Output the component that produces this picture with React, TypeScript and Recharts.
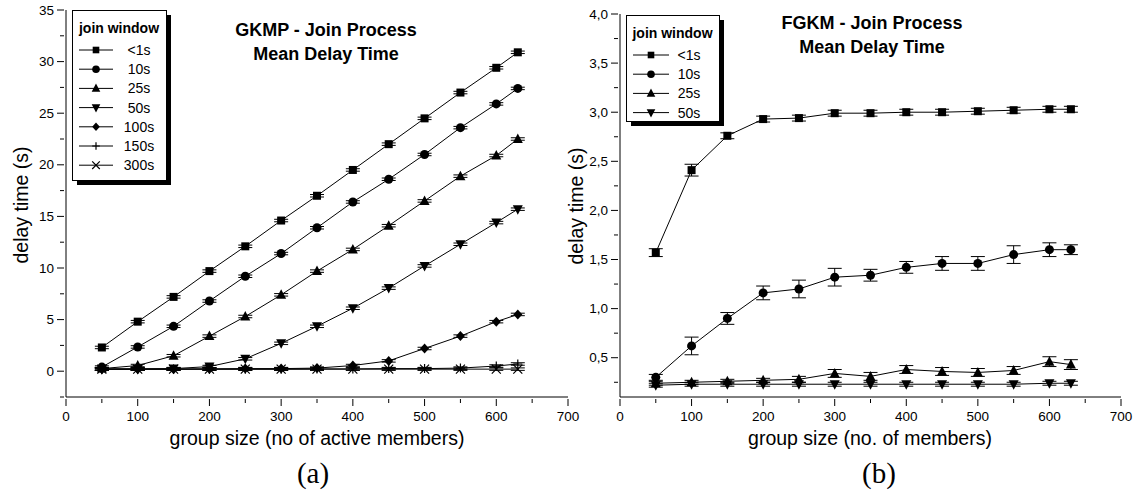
import React from "react";
import { LineChart, Line, XAxis, YAxis, ErrorBar, Legend } from "recharts";

// group sizes (x) shared by both panels
const groupSizes = [50, 100, 150, 200, 250, 300, 350, 400, 450, 500, 550, 600, 630];

// (a) GKMP - mean delay time (s)
const gkmpLt1 = [2.3, 4.8, 7.2, 9.7, 12.1, 14.6, 17.0, 19.5, 22.0, 24.5, 27.0, 29.4, 30.9];
const gkmp10 = [0.4, 2.35, 4.35, 6.8, 9.2, 11.4, 13.9, 16.4, 18.6, 21.0, 23.6, 25.9, 27.4];
const gkmp25 = [0.25, 0.55, 1.5, 3.4, 5.3, 7.4, 9.7, 11.8, 14.1, 16.5, 18.9, 20.9, 22.5];
const gkmp50 = [0.2, 0.22, 0.25, 0.45, 1.2, 2.7, 4.35, 6.1, 8.05, 10.2, 12.3, 14.4, 15.7];
const gkmp100 = [0.2, 0.2, 0.2, 0.22, 0.25, 0.25, 0.3, 0.55, 1.0, 2.2, 3.4, 4.8, 5.5];
const gkmp150 = [0.2, 0.2, 0.2, 0.2, 0.2, 0.2, 0.22, 0.22, 0.25, 0.25, 0.3, 0.5, 0.7];
const gkmp300 = [0.2, 0.2, 0.2, 0.2, 0.2, 0.2, 0.2, 0.2, 0.2, 0.2, 0.2, 0.2, 0.2];
const gkmpErr = [0.12, 0.12, 0.12, 0.12, 0.12, 0.12, 0.12, 0.12, 0.12, 0.12, 0.12, 0.12, 0.12];

// (b) FGKM - mean delay time (s)
const fgkmLt1 = [1.57, 2.41, 2.76, 2.93, 2.94, 2.99, 2.99, 3.0, 3.0, 3.01, 3.02, 3.03, 3.03];
const fgkmLt1Err = [0.04, 0.06, 0.03, 0.03, 0.03, 0.03, 0.03, 0.03, 0.03, 0.03, 0.03, 0.03, 0.03];
const fgkm10 = [0.3, 0.62, 0.9, 1.16, 1.2, 1.32, 1.34, 1.42, 1.46, 1.46, 1.55, 1.6, 1.6];
const fgkm10Err = [0.03, 0.09, 0.06, 0.07, 0.09, 0.09, 0.06, 0.06, 0.07, 0.07, 0.09, 0.07, 0.05];
const fgkm25 = [0.24, 0.25, 0.26, 0.27, 0.28, 0.34, 0.31, 0.38, 0.36, 0.35, 0.37, 0.46, 0.43];
const fgkm25Err = [0.02, 0.02, 0.02, 0.02, 0.03, 0.04, 0.04, 0.04, 0.04, 0.04, 0.04, 0.05, 0.05];
const fgkm50 = [0.22, 0.23, 0.23, 0.23, 0.23, 0.23, 0.23, 0.23, 0.23, 0.23, 0.23, 0.24, 0.24];
const fgkm50Err = [0.02, 0.02, 0.02, 0.02, 0.02, 0.02, 0.02, 0.02, 0.02, 0.02, 0.02, 0.02, 0.02];

// ticks (majors get labels, the rest are minor)
const xTicks = [0, 50, 100, 150, 200, 250, 300, 350, 400, 450, 500, 550, 600, 650, 700];
const yTicksA = [-2.5, 0, 2.5, 5, 7.5, 10, 12.5, 15, 17.5, 20, 22.5, 25, 27.5, 30, 32.5, 35];
const yTicksB = [0.25, 0.5, 0.75, 1, 1.25, 1.5, 1.75, 2, 2.25, 2.5, 2.75, 3, 3.25, 3.5, 3.75, 4];

const SANS = "'Liberation Sans', Arial, sans-serif";
const SERIF = "'Liberation Serif', 'DejaVu Serif', serif";

const gkmpData = groupSizes.map((x, i) => ({
  x,
  lt1: gkmpLt1[i],
  s10: gkmp10[i],
  s25: gkmp25[i],
  s50: gkmp50[i],
  s100: gkmp100[i],
  s150: gkmp150[i],
  s300: gkmp300[i],
  err: gkmpErr[i],
}));

const fgkmData = groupSizes.map((x, i) => ({
  x,
  lt1: fgkmLt1[i],
  lt1Err: fgkmLt1Err[i],
  s10: fgkm10[i],
  s10Err: fgkm10Err[i],
  s25: fgkm25[i],
  s25Err: fgkm25Err[i],
  s50: fgkm50[i],
  s50Err: fgkm50Err[i],
}));

type Shape = "square" | "circle" | "up" | "down" | "diamond" | "plus" | "cross";

const seriesA: { key: string; name: string; shape: Shape }[] = [
  { key: "lt1", name: "<1s", shape: "square" },
  { key: "s10", name: "10s", shape: "circle" },
  { key: "s25", name: "25s", shape: "up" },
  { key: "s50", name: "50s", shape: "down" },
  { key: "s100", name: "100s", shape: "diamond" },
  { key: "s150", name: "150s", shape: "plus" },
  { key: "s300", name: "300s", shape: "cross" },
];

const seriesB: { key: string; name: string; shape: Shape; err: string }[] = [
  { key: "lt1", name: "<1s", shape: "square", err: "lt1Err" },
  { key: "s10", name: "10s", shape: "circle", err: "s10Err" },
  { key: "s25", name: "25s", shape: "up", err: "s25Err" },
  { key: "s50", name: "50s", shape: "down", err: "s50Err" },
];

const Marker = ({ cx, cy, shape, s = 4.5 }: { cx: number; cy: number; shape: Shape; s?: number }) => {
  if (cx == null || cy == null) return null;
  switch (shape) {
    case "square":
      return <rect x={cx - s + 0.5} y={cy - s + 0.5} width={2 * s - 1} height={2 * s - 1} fill="#000" />;
    case "circle":
      return <circle cx={cx} cy={cy} r={s} fill="#000" />;
    case "up":
      return <polygon points={`${cx},${cy - s - 1} ${cx + s + 0.5},${cy + s - 0.5} ${cx - s - 0.5},${cy + s - 0.5}`} fill="#000" />;
    case "down":
      return <polygon points={`${cx - s - 0.5},${cy - s + 0.5} ${cx + s + 0.5},${cy - s + 0.5} ${cx},${cy + s + 1}`} fill="#000" />;
    case "diamond":
      return <polygon points={`${cx},${cy - s - 0.5} ${cx + s},${cy} ${cx},${cy + s + 0.5} ${cx - s},${cy}`} fill="#000" />;
    case "plus":
      return <path d={`M${cx - s},${cy}H${cx + s}M${cx},${cy - s}V${cy + s}`} stroke="#000" strokeWidth={1.2} />;
    case "cross":
      return <path d={`M${cx - s},${cy - s}L${cx + s},${cy + s}M${cx + s},${cy - s}L${cx - s},${cy + s}`} stroke="#000" strokeWidth={1.2} />;
  }
  return null;
};

const isMajor = (v: number, step: number) => Math.abs(v / step - Math.round(v / step)) < 1e-6;

const BottomTick = (props: any) => {
  const { x, y, payload } = props;
  const major = isMajor(payload.value, 100);
  return (
    <g>
      <line x1={x} y1={y} x2={x} y2={y + (major ? 7 : 4)} stroke="#000" />
      {major && (
        <text x={x} y={y + 22} textAnchor="middle" fontSize={13.5} fill="#000" fontFamily={SANS}>
          {payload.value}
        </text>
      )}
    </g>
  );
};

const LeftTick = (props: any) => {
  const { x, y, payload, step, comma } = props;
  const v = payload.value as number;
  const major = isMajor(v, step);
  const label = comma ? v.toFixed(1).replace(".", ",") : String(v);
  return (
    <g>
      <line x1={x} y1={y} x2={x - (major ? 7 : 4)} y2={y} stroke="#000" />
      {major && (
        <text x={x - 10} y={y + 4.5} textAnchor="end" fontSize={13.5} fill="#000" fontFamily={SANS}>
          {label}
        </text>
      )}
    </g>
  );
};

const LegendBox = ({ items, width, height, lineX, markX, textX }: any) => {
  const rowH = 19.2;
  return (
    <svg width={width + 7} height={height + 7} style={{ display: "block", overflow: "visible" }}>
      <rect x={5} y={5} width={width} height={height} fill="#000" />
      <rect x={0.5} y={0.5} width={width} height={height} fill="#fff" stroke="#000" />
      <text x={width / 2} y={23} textAnchor="middle" fontWeight="bold" fontSize={14} fontFamily={SANS}>
        join window
      </text>
      {items.map((it: any, i: number) => {
        const y = 40 + i * rowH;
        return (
          <g key={it.key}>
            <line x1={lineX[0]} x2={lineX[1]} y1={y} y2={y} stroke="#000" />
            <Marker cx={markX} cy={y} shape={it.shape} s={3.8} />
            <text x={textX} y={y + 5} textAnchor="middle" fontSize={14} fontFamily={SANS}>
              {it.name}
            </text>
          </g>
        );
      })}
    </svg>
  );
};

const textStyle: React.CSSProperties = {
  position: "absolute",
  fontFamily: SANS,
  color: "#000",
  whiteSpace: "nowrap",
};

export default function App() {
  return (
    <div style={{ position: "absolute", left: 0, top: 0, width: 1138, height: 494, background: "#fff", overflow: "hidden" }}>
      {/* (a) GKMP */}
      <div style={{ position: "absolute", left: 0, top: 0 }}>
        <LineChart width={584} height={494} data={gkmpData} margin={{ top: 10, right: 16, left: 0, bottom: 67 }}>
          <XAxis
            type="number"
            dataKey="x"
            domain={[0, 700]}
            ticks={xTicks}
            interval={0}
            height={30}
            tickSize={0}
            tickLine={false}
            tick={<BottomTick />}
            axisLine={{ stroke: "#000" }}
          />
          <YAxis
            type="number"
            domain={[-2.5, 35]}
            ticks={yTicksA}
            interval={0}
            width={66}
            tickSize={0}
            tickLine={false}
            tick={(p: any) => <LeftTick {...p} step={5} />}
            axisLine={{ stroke: "#000" }}
            allowDataOverflow
          />
          <Legend
            layout="vertical"
            align="center"
            verticalAlign="middle"
            wrapperStyle={{ left: 72, top: 10, width: 102, height: 180 }}
            content={() => <LegendBox items={seriesA} width={94} height={170} lineX={[7, 41]} markX={24} textX={67} />}
          />
          {seriesA.map((s) => (
            <Line
              key={s.key}
              type="linear"
              dataKey={s.key}
              name={s.name}
              stroke="#000"
              strokeWidth={1}
              dot={(p: any) => <Marker key={`${s.key}-${p.index}`} cx={p.cx} cy={p.cy} shape={s.shape} />}
              activeDot={false}
              isAnimationActive={false}
            >
              <ErrorBar dataKey="err" width={7} stroke="#000" strokeWidth={1} direction="y" isAnimationActive={false} />
            </Line>
          ))}
        </LineChart>
      </div>

      {/* (b) FGKM */}
      <div style={{ position: "absolute", left: 570, top: 0 }}>
        <LineChart width={568} height={494} data={fgkmData} margin={{ top: 14, right: 17, left: 0, bottom: 67 }}>
          <XAxis
            type="number"
            dataKey="x"
            domain={[0, 700]}
            ticks={xTicks}
            interval={0}
            height={30}
            tickSize={0}
            tickLine={false}
            tick={<BottomTick />}
            axisLine={{ stroke: "#000" }}
          />
          <YAxis
            type="number"
            domain={[0.1, 4]}
            ticks={yTicksB}
            interval={0}
            width={50}
            tickSize={0}
            tickLine={false}
            tick={(p: any) => <LeftTick {...p} step={0.5} comma />}
            axisLine={{ stroke: "#000" }}
            allowDataOverflow
          />
          <Legend
            layout="vertical"
            align="center"
            verticalAlign="middle"
            wrapperStyle={{ left: 56, top: 15, width: 101, height: 115 }}
            content={() => <LegendBox items={seriesB} width={93} height={106} lineX={[7, 43]} markX={25} textX={63} />}
          />
          {seriesB.map((s) => (
            <Line
              key={s.key}
              type="linear"
              dataKey={s.key}
              name={s.name}
              stroke="#000"
              strokeWidth={1}
              dot={(p: any) => <Marker key={`${s.key}-${p.index}`} cx={p.cx} cy={p.cy} shape={s.shape} />}
              activeDot={false}
              isAnimationActive={false}
            >
              <ErrorBar dataKey={s.err} width={7} stroke="#000" strokeWidth={1} direction="y" isAnimationActive={false} />
            </Line>
          ))}
        </LineChart>
      </div>

      {/* titles */}
      <div style={{ ...textStyle, left: 326, top: 18, transform: "translateX(-50%)", fontSize: 18, fontWeight: "bold", lineHeight: "24px", textAlign: "center" }}>
        GKMP - Join Process
        <br />
        Mean Delay Time
      </div>
      <div style={{ ...textStyle, left: 872, top: 11, transform: "translateX(-50%)", fontSize: 18, fontWeight: "bold", lineHeight: "24px", textAlign: "center" }}>
        FGKM - Join Process
        <br />
        Mean Delay Time
      </div>

      {/* axis titles */}
      <div style={{ ...textStyle, left: 317, top: 438, transform: "translate(-50%,-50%)", fontSize: 19.5 }}>
        group size (no of active members)
      </div>
      <div style={{ ...textStyle, left: 870, top: 438, transform: "translate(-50%,-50%)", fontSize: 19.5 }}>
        group size (no. of members)
      </div>
      <div style={{ ...textStyle, left: 21, top: 205, transform: "translate(-50%,-50%) rotate(-90deg)", fontSize: 19.5 }}>
        delay time (s)
      </div>
      <div style={{ ...textStyle, left: 576, top: 206, transform: "translate(-50%,-50%) rotate(-90deg)", fontSize: 19.5 }}>
        delay time (s)
      </div>

      {/* panel captions */}
      <div style={{ ...textStyle, left: 313, top: 473, transform: "translate(-50%,-50%)", fontSize: 29, fontFamily: SERIF }}>
        (a)
      </div>
      <div style={{ ...textStyle, left: 879, top: 473, transform: "translate(-50%,-50%)", fontSize: 29, fontFamily: SERIF }}>
        (b)
      </div>
    </div>
  );
}
